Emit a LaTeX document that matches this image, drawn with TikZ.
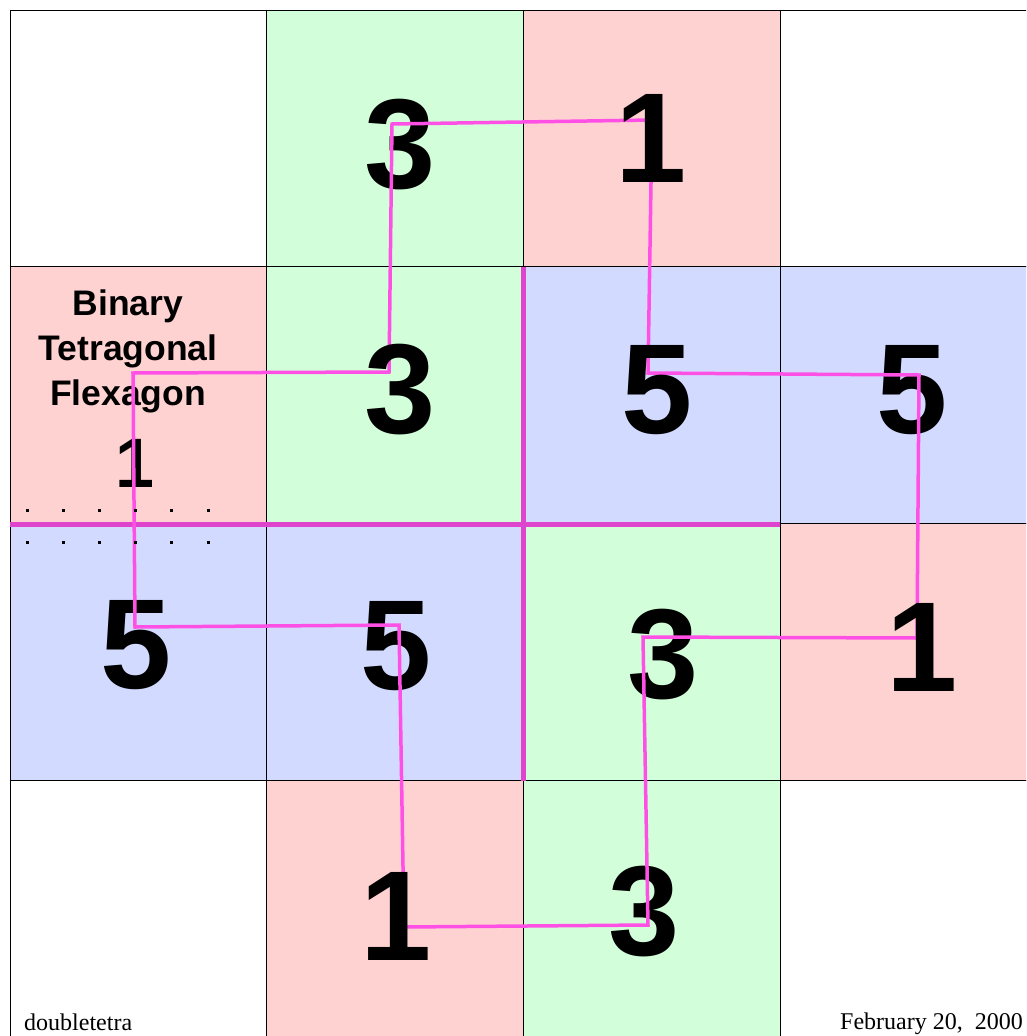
\documentclass[tikz,border=0pt]{standalone}
\usepackage{fontspec}
\setmainfont{Liberation Serif}
\setsansfont{Liberation Sans}
\usetikzlibrary{positioning}
\definecolor{cellpink}{RGB}{255,210,210}
\definecolor{cellgreen}{RGB}{210,255,218}
\definecolor{cellblue}{RGB}{210,218,255}
\definecolor{strippink}{RGB}{255,80,230}
\definecolor{foldpink}{RGB}{222,68,204}
\tikzset{
  cell/.style={draw=black, line width=1pt},
  bignum/.style={font=\sffamily\bfseries\fontsize{128}{128}\selectfont, inner sep=0pt},
  smallnum/.style={font=\sffamily\bfseries\fontsize{70}{70}\selectfont, inner sep=0pt},
  title/.style={font=\sffamily\bfseries\fontsize{35.5}{45}\selectfont, align=center, inner sep=0pt},
  stamp/.style={font=\fontsize{24}{24}\selectfont, inner sep=0pt},
  strip/.style={strippink, line width=3.5pt, line join=miter},
  fold/.style={foldpink, line width=5pt},
  dotmark/.style={fill=black, inner sep=0pt, minimum size=3pt}
}

\begin{document}
\begin{tikzpicture}[x=1pt, y=-1pt]
    \useasboundingbox (0,0) rectangle (1026,1036);
    \clip (0,0) rectangle (1026,1036);

    % squares of the strip
    \foreach \c/\r/\f in {0/0/white, 1/0/cellgreen, 2/0/cellpink, 3/0/white,
                          0/1/cellpink, 1/1/cellgreen, 2/1/cellblue, 3/1/cellblue,
                          0/2/cellblue, 1/2/cellblue, 2/2/cellgreen, 3/2/cellpink,
                          0/3/white, 1/3/cellpink, 2/3/cellgreen, 3/3/white}
        \draw[cell, fill=\f] ({10+256.7*\c},{10+256.7*\r}) rectangle +(256.7,256.7);

    % fold lines
    \coordinate (fl) at (10,524);
    \coordinate (fr) at (780,524);
    \coordinate (ft) at (523,267);
    \coordinate (fb) at (523,781);
    \draw[fold] (fl) -- (fr);
    \draw[fold] (ft) -- (fb);

    % faces under the strip line
    \node[title] (name) at (128,351) {Binary\\Tetragonal\\Flexagon};
    \node[smallnum] (one) at (135,463) {1};
    \node[bignum] (a3) at (400,145) {3};
    \node[bignum] (d5) at (912,390) {5};
    \node[bignum] (e5) at (136,645) {5};
    \node[bignum] (f5) at (396,646) {5};
    \node[bignum] (g3) at (663,655) {3};
    \node[bignum] (k3) at (644,912) {3};

    % strip line
    \coordinate (s1) at (404,927);
    \coordinate (s2) at (648,925);
    \coordinate (s3) at (643,637);
    \coordinate (s4) at (917,638);
    \coordinate (s5) at (919,375);
    \coordinate (s6) at (648,373);
    \coordinate (s7) at (652,120);
    \coordinate (s8) at (392,124);
    \coordinate (s9) at (389,372);
    \coordinate (s10) at (133,373);
    \coordinate (s11) at (135,627);
    \coordinate (s12) at (399,625);
    \draw[strip] (s1) -- (s2) -- (s3) -- (s4) -- (s5) -- (s6) -- (s7)
        -- (s8) -- (s9) -- (s10) -- (s11) -- (s12) -- cycle;

    % faces over the strip line
    \node[bignum] (b1) at (651,138) {1};
    \node[bignum] (c3) at (400,390) {3};
    \node[bignum] (c5) at (657,390) {5};
    \node[bignum] (h1) at (922,647) {1};
    \node[bignum] (j1) at (396,916) {1};

    % dotted marks
    \foreach \i in {0,...,5} {
        \node[dotmark] (u\i) at ({27+36.2*\i},510) {};
        \node[dotmark] (w\i) at ({27+36.2*\i},542) {};
    }

    \node[stamp, anchor=base west] (file) at (24,1030) {doubletetra};
    \node[stamp, anchor=base east] (date) at (1023,1029) {February 20,~ 2000};
\end{tikzpicture}
\end{document}
